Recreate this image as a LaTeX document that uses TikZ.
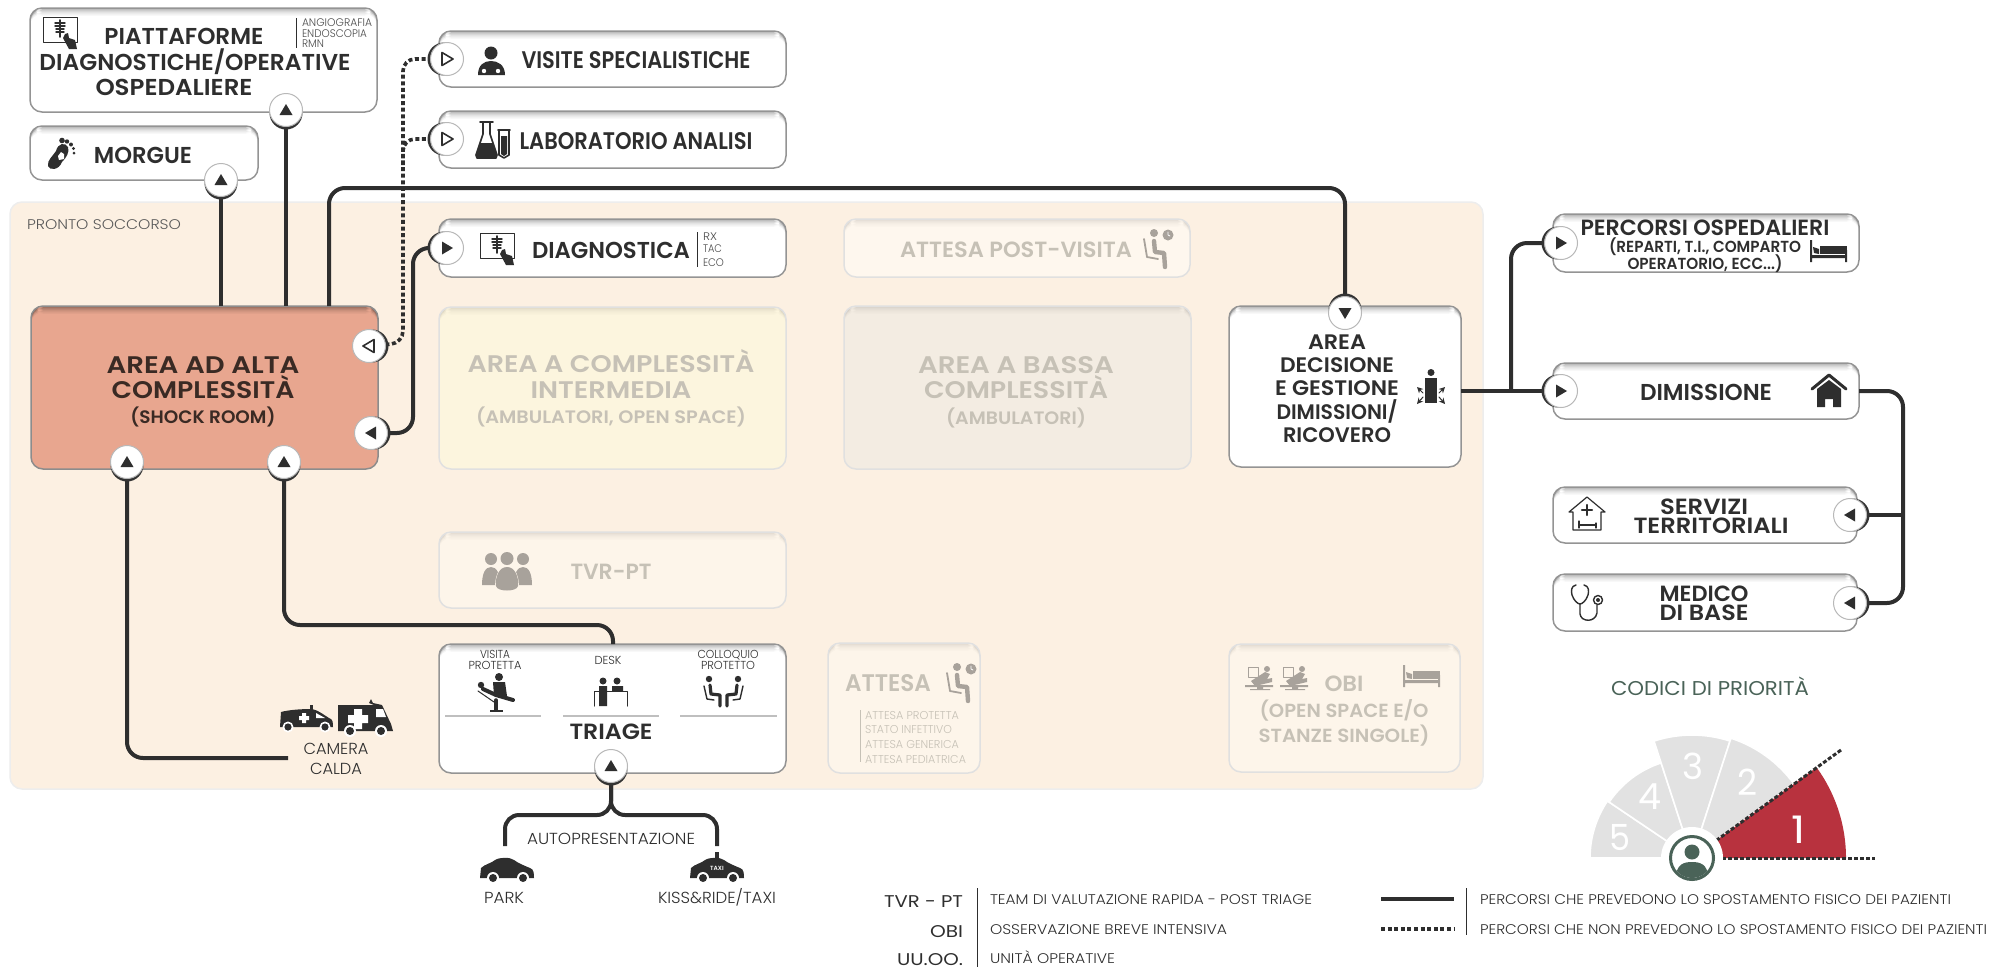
\documentclass[tikz,border=0pt]{standalone}
\usepackage{fontspec}
\usepackage{graphicx}
\usetikzlibrary{arrows.meta,calc}
\setmainfont{Poppins}
\newfontfamily\fbold{Poppins SemiBold}
\newfontfamily\flight{Poppins Light}
\newfontfamily\fmed{Poppins}
\definecolor{ink}{HTML}{2E2E2E}
\definecolor{dimtxt}{HTML}{C6C1B6}
\definecolor{dimico}{HTML}{A8A29B}
\definecolor{psbg}{HTML}{FCF0E2}
\definecolor{greenc}{HTML}{4A6358}
\definecolor{redc}{HTML}{B8323E}
\definecolor{greyc}{HTML}{E2E2E2}
\definecolor{altaf}{HTML}{E8A68F}
\definecolor{altat}{HTML}{3A2A24}
\definecolor{attpvf}{HTML}{FEF7EE}
\definecolor{interf}{HTML}{FCF5DE}
\definecolor{bassaf}{HTML}{F3ECE2}
\definecolor{dimf}{HTML}{FDF5EA}
\newdimen\pxu \pxu=0.5pt
\newcount\tcnt
\pgfdeclarelayer{bg}\pgfdeclarelayer{conn}\pgfsetlayers{bg,conn,main}
% generic text: font, anchor, colour, size(pt), x, y, width(px), text
\newcommand\txt[8]{\global\advance\tcnt by 1
  \node[inner sep=0pt,outer sep=0pt,anchor=#2,text=#3,yshift={-0.35*#4 pt},font={#1\fontsize{#4}{#4}\selectfont}] (t\the\tcnt) at (#5,#6) {\resizebox{#7\pxu}{\height}{#8}};}
\newcommand\tB[6][ink]{\txt{\fbold}{base}{#1}{#2}{#3}{#4}{#5}{#6}}
\newcommand\tL[6][ink]{\txt{\flight}{base}{#1}{#2}{#3}{#4}{#5}{#6}}
\newcommand\tM[6][ink]{\txt{\fmed}{base}{#1}{#2}{#3}{#4}{#5}{#6}}
\newcommand\tW[6][ink]{\txt{\flight}{base west}{#1}{#2}{#3}{#4}{#5}{#6}}
\newcommand\tE[6][ink]{\txt{\fmed}{base east}{#1}{#2}{#3}{#4}{#5}{#6}}
% box: name x1 y1 x2 y2 fill border shadow-strength
\newcommand\bx[8]{\begin{pgfonlayer}{bg}
  \node[draw=#7,fill=#6,line width=.75pt,rounded corners=6pt,inner sep=0pt,outer sep=0pt,
    minimum width={(#4-#2)*0.5pt},minimum height={(#5-#3)*0.5pt},
    path picture={\foreach \i/\o in {0/.30,1/.20,2/.13,3/.08,4/.04}{\fill[black,fill opacity={#8*\o}] ($(path picture bounding box.north west)+(0,{\i*1.5})$) rectangle ($(path picture bounding box.north east)+(0,{\i*1.5+1.5})$);}}]
    (#1) at ({(#2+#4)/2},{(#3+#5)/2}) {};
  \end{pgfonlayer}}
\newcommand\wbx[5]{\bx{#1}{#2}{#3}{#4}{#5}{white}{black!42}{1}}
\newcommand\dbx[6]{\bx{#1}{#2}{#3}{#4}{#5}{#6}{black!12}{.35}}
% arrow circle: name x y rotation trianglestyle
\newcommand\arrc[5]{\begin{scope}[shift={(#2,#3)},rotate=#4]\fill[black!80] (0,3) circle[radius=16.5];\end{scope}
  \node[circle,fill=white,draw=black!28,line width=.5pt,minimum size=16.5pt,inner sep=0pt,outer sep=0pt] (#1) at (#2,#3) {};
  \begin{scope}[shift={(#2,#3)},rotate=#4]\path[#5] (0,-6) -- (6.5,5) -- (-6.5,5) -- cycle;\end{scope}}
\tikzset{solidt/.style={fill=ink},opent/.style={draw=ink,fill=white,line width=.8pt,line join=round},
 sconn/.style={draw=ink,line width=2pt,rounded corners=8pt},
 dconn/.style={draw=ink,line width=1.8pt,dash pattern=on 2pt off 1.3pt,rounded corners=6pt},
 ic/.style n args={4}{shift={(#1,#2)},scale=#3,fill=#4,draw=#4,line width=.5pt,line cap=round,line join=round}}
% icons
\newcommand\icXray[4]{\begin{scope}[ic={#1}{#2}{#3}{#4}]
 \draw[line width=.5pt] (0,0) rectangle (34,25);
 \draw[line width=.9pt] (17,3)--(17,20);\draw[line width=.7pt] (12,6)--(22,6) (12,9)--(22,9) (13,12)--(21,12) (13,15)--(21,15);
 \fill (22,17) -- (25,16) -- (26,21) -- (32,23) -- (34,32) -- (26,32) -- (20,21) -- cycle;\end{scope}}
\newcommand\icFoot[4]{\begin{scope}[ic={#1}{#2}{#3}{#4}]
 \fill (1,28) .. controls (0,22) and (6,18) .. (9,13) .. controls (11,5) and (18,4) .. (21,9) .. controls (23,14) and (19,20) .. (15,24) .. controls (12,32) and (3,33) .. (1,28) -- cycle;
 \fill (15,2.5) circle[radius=2.8] (20,3.5) circle[radius=2.2] (24,6.5) circle[radius=2] (26.5,10.5) circle[radius=1.7] (27,15) circle[radius=1.5];
 \fill[white] (11,18)--(14,14)--(17,16)--(17,21)--(12,22)--cycle;\end{scope}}
\newcommand\icDoc[4]{\begin{scope}[ic={#1}{#2}{#3}{#4}]
 \fill (13,7) circle[radius=6.5];
 \fill (0,29) .. controls (0,19) and (6,15) .. (13,15) .. controls (20,15) and (27,19) .. (27,29) -- cycle;
 \fill[white] (6,25) circle[radius=2.2] (20,25) circle[radius=2.2];\end{scope}}
\newcommand\icLab[4]{\begin{scope}[ic={#1}{#2}{#3}{#4}]
 \draw[line width=.8pt] (5,0)--(18,0) (8,0)--(8,12)--(1,33)--(2,36)--(21,36)--(22,33)--(15,12)--(15,0);
 \fill (5,21)--(18,21)--(22,33)--(21,36)--(2,36)--(1,33)--cycle;
 \draw[line width=.8pt] (24,8)--(24,33)--(29,36)--(34,33)--(34,8) (23,8)--(35,8);
 \fill (26,14)--(32,14)--(32,32)--(29,34)--(26,32)--cycle;\end{scope}}
\newcommand\icWait[4]{\begin{scope}[ic={#1}{#2}{#3}{#4}]
 \fill (13,4) circle[radius=4];
 \draw[line width=2.2pt] (13,12)--(14,23)--(23,24)--(24,38);
 \draw[line width=.9pt] (3,10)--(6,28)--(17,30);
 \fill (27,6) circle[radius=5.5];\draw[white,line width=.4pt] (27,3)--(27,6)--(29,7);\end{scope}}
\newcommand\icPeople[4]{\begin{scope}[ic={#1}{#2}{#3}{#4}]
 \fill (9,7) circle[radius=6] (41,7) circle[radius=6] (25,6.5) circle[radius=6.5];
 \fill (0,33) .. controls (0,22) and (3,15) .. (9,15) .. controls (15,15) and (18,22) .. (18,33) -- cycle;
 \fill (32,33) .. controls (32,22) and (35,15) .. (41,15) .. controls (47,15) and (50,22) .. (50,33) -- cycle;
 \draw[dimf,line width=.8pt] (14,39) .. controls (13,25) and (17,15) .. (25,15) .. controls (33,15) and (37,25) .. (36,39);
 \fill (14,34) .. controls (13,25) and (17,15) .. (25,15) .. controls (33,15) and (37,25) .. (36,34) .. controls (35,40) and (15,40) .. (14,34) -- cycle;\end{scope}}
\newcommand\icCar[4]{\begin{scope}[ic={#1}{#2}{#3}{#4}]
 \fill (0,21) -- (1,11) .. controls (5,7) and (12,6) .. (15,3) .. controls (20,0) and (30,0) .. (34,3) .. controls (38,6) and (45,9) .. (50,11) .. controls (54,12) and (54,17) .. (54,21) -- cycle;
 \fill[white] (13,21) circle[radius=6] (43,21) circle[radius=6];
 \fill (13,21) circle[radius=4] (43,21) circle[radius=4];\end{scope}}
\newcommand\icAmbS[4]{\begin{scope}[ic={#1}{#2}{#3}{#4}]
 \fill (0,24) -- (1,9) .. controls (8,7) and (20,6) .. (32,6) .. controls (38,7) and (44,12) .. (49,15) .. controls (53,16) and (53,20) .. (53,24) -- cycle;
 \fill (30,2) rectangle (33,6);
 \fill[white] (36,10)--(45,15)--(36,15)--cycle;
 \fill[white] (22,10) rectangle (26,20) (19,13) rectangle (29,17);
 \fill[white] (8,24) circle[radius=5.5] (45,24) circle[radius=5.5];
 \fill (8,24) circle[radius=3.6] (45,24) circle[radius=3.6];\end{scope}}
\newcommand\icAmbB[4]{\begin{scope}[ic={#1}{#2}{#3}{#4}]
 \fill (0,7) -- (36,7) -- (31,5) -- (33,1) -- (35,5) -- (44,7) -- (53,26) -- (55,33) -- (0,33) -- cycle;
 \fill[white] (38,11)--(45,11)--(48,19)--(38,19)--cycle;
 \fill[white] (16,11) rectangle (24,31) (10,17) rectangle (30,25);
 \fill[white] (12,33) circle[radius=6] (43,33) circle[radius=6];
 \fill (12,33) circle[radius=4] (43,33) circle[radius=4];\end{scope}}
\newcommand\icVisit[4]{\begin{scope}[ic={#1}{#2}{#3}{#4}]
 \fill (23,5) circle[radius=4];
 \fill (17,10)--(29,10)--(31,24)--(18,24)--cycle;
 \fill (5,13) circle[radius=3.2];
 \draw[line width=2pt] (7,17)--(20,23)--(37,28);
 \draw[line width=.5pt] (2,19)--(18,30);
 \draw[line width=1.8pt] (20,28)--(20,38);\fill (14,38) rectangle (27,40);\end{scope}}
\newcommand\icDesk[4]{\begin{scope}[ic={#1}{#2}{#3}{#4}]
 \fill (9,4) circle[radius=3.5] (23,4) circle[radius=3.5];
 \fill (5,9) rectangle (13,29) (18,9) rectangle (29,14);
 \draw[line width=.5pt] (0,29)--(0,14)--(33,14)--(33,29);\end{scope}}
\newcommand\icTalk[4]{\begin{scope}[ic={#1}{#2}{#3}{#4}]
 \fill (6,3) circle[radius=3.2] (35,3) circle[radius=3.2];
 \draw[line width=1.6pt] (7,9)--(8,18)--(17,19)--(17,30) (34,9)--(33,18)--(24,19)--(24,30);
 \draw[line width=.7pt] (1,10)--(4,23)--(11,24) (40,10)--(37,23)--(30,24);\end{scope}}
\newcommand\icBed[4]{\begin{scope}[ic={#1}{#2}{#3}{#4}]
 \fill (0,0) rectangle (2,22) (35,10) rectangle (37,22) (0,15) rectangle (37,18);
 \fill (10,6) rectangle (37,14);\fill (3,7) -- (9,9) -- (9,14) -- (4,13) -- cycle;\end{scope}}
\newcommand\icHouse[4]{\begin{scope}[ic={#1}{#2}{#3}{#4}]
 \draw[line width=1.5pt] (1,15)--(18,1)--(35,15);
 \fill (6,15)--(18,6)--(30,15)--(30,33)--(22,33)--(22,25)--(14,25)--(14,33)--(6,33)--cycle;\end{scope}}
\newcommand\icServ[4]{\begin{scope}[ic={#1}{#2}{#3}{#4}]
 \draw[line width=.6pt] (0,15)--(18,0)--(36,15)--(32,15)--(32,33)--(4,33)--(4,15)--cycle;
 \draw[line width=1.2pt] (18,8)--(18,18) (13,13)--(23,13);
 \draw[line width=.6pt] (10,24)--(10,31) (10,28)--(27,28) (27,26)--(27,31);\end{scope}}
\newcommand\icSteth[4]{\begin{scope}[ic={#1}{#2}{#3}{#4}]
 \draw[line width=.7pt] (5,0) .. controls (0,1) and (0,6) .. (1,10) .. controls (3,16) and (7,19) .. (9,19) .. controls (11,19) and (15,16) .. (17,10) .. controls (18,6) and (18,1) .. (13,0);
 \draw[line width=.7pt] (9,19)--(9,29) .. controls (10,37) and (24,38) .. (26,28)--(26,20);
 \draw[line width=.7pt] (27,15) circle[radius=4.5];\fill (27,15) circle[radius=2];\end{scope}}
\newcommand\icDec[4]{\begin{scope}[ic={#1}{#2}{#3}{#4}]
 \fill (15,3.5) circle[radius=3.5];
 \fill (9,9) rectangle (21,34);
 \draw[line width=.5pt,-{Stealth[length=3pt,width=3pt]}] (7,24)--(1,18);
 \draw[line width=.5pt,-{Stealth[length=3pt,width=3pt]}] (23,24)--(29,18);
 \draw[line width=.5pt,-{Stealth[length=3pt,width=3pt]}] (7,28)--(1,35);
 \draw[line width=.5pt,-{Stealth[length=3pt,width=3pt]}] (23,28)--(29,35);\end{scope}}
\newcommand\icPatient[4]{\begin{scope}[ic={#1}{#2}{#3}{#4}]
 \draw[line width=.3pt] (3,0) rectangle (13,10);
 \fill (22,2) circle[radius=3];
 \fill (6,14)--(20,5)--(25,7)--(22,12)--(27,11)--(27,15)--(10,19)--cycle;
 \fill (0,18) rectangle (28,20) (12,20) rectangle (18,22) (5,22) rectangle (25,23);\end{scope}}
\begin{document}
\begin{tikzpicture}[x=0.5pt,y=-0.5pt]
\useasboundingbox (0,0) rectangle (1991,970);
% background
\begin{pgfonlayer}{bg}
\node[draw=black!7,fill=psbg,line width=.75pt,rounded corners=6pt,inner sep=0pt,outer sep=0pt,minimum width=736.5pt,minimum height=293.5pt] (ps) at ({(10+1483)/2},{(202+789)/2}) {};
\end{pgfonlayer}
\tW[black!65]{7}{27}{225}{154}{PRONTO SOCCORSO}
% boxes
\wbx{piatt}{30}{8}{377}{112}
\wbx{morgue}{30}{126}{258}{180}
\wbx{visite}{439}{31}{786}{87}
\wbx{lab}{439}{111}{786}{168}
\wbx{diag}{439}{219}{786}{277}
\wbx{triage}{439}{644}{786}{773}
\wbx{decis}{1229}{306}{1461}{467}
\wbx{percorsi}{1553}{214}{1859}{272}
\wbx{dimiss}{1553}{363}{1859}{419}
\wbx{serv}{1553}{487}{1857}{543}
\wbx{medico}{1553}{574}{1857}{631}
\bx{alta}{31}{306}{378}{469}{altaf}{black!45}{1.2}
\dbx{attpv}{844}{219}{1190}{277}{attpvf}
\dbx{inter}{439}{307}{786}{469}{interf}
\dbx{bassa}{844}{306}{1191}{469}{bassaf}
\dbx{tvr}{439}{532}{786}{608}{dimf}
\dbx{attesa}{828}{643}{980}{773}{dimf}
\dbx{obi}{1229}{644}{1460}{772}{dimf}
% arrow circles
\arrc{cPiatt}{286}{110}{0}{solidt}
\arrc{cMorgue}{221}{180}{0}{solidt}
\arrc{cVis}{447}{59}{-90}{opent}
\arrc{cLab}{447}{139}{-90}{opent}
\arrc{cDiag}{447}{248}{-90}{solidt}
\arrc{cAltaO}{369}{346}{90}{opent}
\arrc{cAltaS}{371}{433}{90}{solidt}
\arrc{cAltaB}{127}{462}{0}{solidt}
\arrc{cAltaT}{284}{462}{0}{solidt}
\arrc{cDec}{1345}{313}{180}{solidt}
\arrc{cTri}{611}{766}{0}{solidt}
\arrc{cPerc}{1561}{243}{-90}{solidt}
\arrc{cDim}{1561}{391}{-90}{solidt}
\arrc{cServ}{1850}{515}{90}{solidt}
\arrc{cMed}{1850}{603}{90}{solidt}
% junctions
\coordinate (jLong1) at (329,188);\coordinate (jLong2) at (1345,188);
\coordinate (jDot1) at (403,343);\coordinate (jDot2) at (403,59);\coordinate (jDot3) at (403,139);\coordinate (jDot4) at (403,165);
\coordinate (jD1) at (413,433);\coordinate (jD2) at (413,248);
\coordinate (jT1) at (613,625);\coordinate (jT2) at (284,625);
\coordinate (jC1) at (127,758);\coordinate (jCam) at (288,758);
\coordinate (jF) at (611,815);\coordinate (jFL) at (505,815);\coordinate (jFR) at (717,815);
\coordinate (jPark) at (505,846);\coordinate (jTaxi) at (717,846);
\coordinate (jP1) at (1511,391);\coordinate (jP2) at (1511,243);
\coordinate (jR1) at (1903,391);\coordinate (jR2) at (1903,603);\coordinate (jR3) at (1903,515);
\begin{pgfonlayer}{conn}
\draw[sconn] (cMorgue) -- (cMorgue |- alta.north);
\draw[sconn] (cPiatt) -- (cPiatt |- alta.north);
\draw[sconn] (jLong1 |- alta.north) -- (jLong1) -- (jLong2) -- (cDec);
\draw[dconn] (cAltaO) -- (jDot1) -- (jDot2) -- (cVis);
\draw[dconn] (jDot4) -- (jDot3) -- (cLab);
\draw[sconn] (cAltaS) -- (jD1) -- (jD2) -- (cDiag);
\draw[sconn] (jT1 |- triage.north) -- (jT1) -- (jT2) -- (cAltaT);
\draw[sconn] (jCam) -- (jC1) -- (cAltaB);
\draw[sconn,rounded corners=7pt] (cTri) -- (jF) -- (jFL) -- (jPark);
\draw[sconn,rounded corners=7pt] (cTri) -- (jF) -- (jFR) -- (jTaxi);
\draw[sconn] (decis.east |- jP1) -- (cDim);
\draw[sconn] (jP1) -- (jP2) -- (cPerc);
\draw[sconn] (dimiss.east |- jR1) -- (jR1) -- (jR2) -- (cMed);
\draw[sconn] (jR3) -- (cServ);
\end{pgfonlayer}
% box texts
\tB{11.5}{184}{36}{159}{PIATTAFORME}
\tB{11.5}{195}{62}{311}{DIAGNOSTICHE/OPERATIVE}
\tB{11.5}{174}{87}{157}{OSPEDALIERE}
\draw[ink,line width=.4pt] (296,18)--(296,48);
\tW[black!70]{5.5}{302}{23}{70}{ANGIOGRAFIA}
\tW[black!70]{5.5}{302}{34}{65}{ENDOSCOPIA}
\tW[black!70]{5.5}{302}{44}{22}{RMN}
\icXray{43}{17}{1}{ink}
\icFoot{47}{138}{1}{ink}
\tB{11.5}{143}{155}{98}{MORGUE}
\icDoc{478}{46}{1}{ink}
\tB{12}{636}{60}{229}{VISITE SPECIALISTICHE}
\icLab{475}{122}{1}{ink}
\tB{12}{636}{141}{233}{LABORATORIO ANALISI}
\icXray{480}{233}{1}{ink}
\tB{11.5}{611}{250}{158}{DIAGNOSTICA}
\draw[ink,line width=.4pt] (697,232)--(697,267);
\tW[black!70]{5.5}{703}{237}{14}{RX}
\tW[black!70]{5.5}{703}{249}{19}{TAC}
\tW[black!70]{5.5}{703}{263}{21}{ECO}
\tB[altat]{12}{203}{365}{193}{AREA AD ALTA}
\tB[altat]{12}{203}{390}{183}{COMPLESSITÀ}
\tB[altat]{9}{203}{417}{145}{(SHOCK ROOM)}
\tB[dimtxt]{12}{611}{364}{287}{AREA A COMPLESSITÀ}
\tB[dimtxt]{12}{611}{390}{161}{INTERMEDIA}
\tB[dimtxt]{9}{611}{417}{270}{(AMBULATORI, OPEN SPACE)}
\tB[dimtxt]{11}{1016}{250}{232}{ATTESA POST-VISITA}
\icWait{1141}{229}{1}{dimico}
\tB[dimtxt]{12}{1016}{365}{196}{AREA A BASSA}
\tB[dimtxt]{12}{1016}{390}{184}{COMPLESSITÀ}
\tB[dimtxt]{9}{1016}{418}{140}{(AMBULATORI)}
\tB{10.5}{1337}{342}{58}{AREA}
\tB{10.5}{1337}{365}{114}{DECISIONE}
\tB{10.5}{1337}{388}{124}{E GESTIONE}
\tB{10.5}{1337}{412}{121}{DIMISSIONI/}
\tB{10.5}{1337}{435}{108}{RICOVERO}
\icDec{1416}{369}{1}{ink}
\icPeople{482}{552}{1}{dimico}
\tB[dimtxt]{11}{611}{572}{81}{TVR-PT}
% triage
\tL{5.8}{495}{654}{30}{VISITA}
\tL{5.8}{495}{665}{53}{PROTETTA}
\tL{5.8}{608}{660}{27}{DESK}
\tL{5.8}{728}{654}{61}{COLLOQUIO}
\tL{5.8}{728}{665}{54}{PROTETTO}
\icVisit{476}{672}{1}{ink}
\icDesk{594}{677}{1}{ink}
\icTalk{703}{676}{1}{ink}
\draw[black!25,line width=.6pt] (445,716)--(541,716) (563,716)--(659,716) (680,716)--(777,716);
\tB{11}{611}{732}{83}{TRIAGE}
% attesa
\tB[dimtxt]{12}{888}{683}{86}{ATTESA}
\icWait{944}{663}{1}{dimico}
\draw[dimtxt,line width=.4pt] (860,710)--(860,762);
\tW[dimtxt]{5.7}{865}{715}{94}{ATTESA PROTETTA}
\tW[dimtxt]{5.7}{865}{729}{87}{STATO INFETTIVO}
\tW[dimtxt]{5.7}{865}{744}{94}{ATTESA GENERICA}
\tW[dimtxt]{5.7}{865}{759}{101}{ATTESA PEDIATRICA}
% obi
\icPatient{1245}{667}{1}{dimico}
\icPatient{1280}{667}{1}{dimico}
\tB[dimtxt]{11}{1344}{684}{39}{OBI}
\icBed{1403}{665}{1}{dimico}
\tB[dimtxt]{9.5}{1344}{711}{169}{(OPEN SPACE E/O}
\tB[dimtxt]{9.5}{1344}{736}{171}{STANZE SINGOLE)}
% right boxes
\tB{11}{1705}{228}{249}{PERCORSI OSPEDALIERI}
\tB{8}{1705}{247}{192}{(REPARTI, T.I., COMPARTO}
\tB{8}{1705}{264}{155}{OPERATORIO, ECC...)}
\icBed{1810}{240}{1}{ink}
\tB{11.5}{1706}{392}{132}{DIMISSIONE}
\icHouse{1811}{374}{1}{ink}
\tB{11}{1704}{507}{88}{SERVIZI}
\tB{11}{1711}{526}{155}{TERRITORIALI}
\icServ{1569}{497}{1}{ink}
\tB{11}{1704}{594}{89}{MEDICO}
\tB{11}{1704}{613}{89}{DI BASE}
\icSteth{1571}{585}{1}{ink}
% camera calda, cars
\icAmbS{280}{703}{1}{ink}
\icAmbB{338}{698}{1}{ink}
\tL{8}{336}{749}{65}{CAMERA}
\tL{8}{336}{769}{52}{CALDA}
\tL{8}{611}{839}{168}{AUTOPRESENTAZIONE}
\icCar{480}{857}{1}{ink}
\icCar{690}{857}{1}{ink}
\fill[ink] (715,852) rectangle (719,858);
\node[text=white,font={\fbold\fontsize{3}{3}\selectfont},inner sep=0pt] (tTaxi) at (717,868) {TAXI};
\tL{8}{504}{898}{40}{PARK}
\tL{8}{717}{898}{118}{KISS\&RIDE/TAXI}
% priority
\tM[greenc]{10}{1710}{688}{198}{CODICI DI PRIORITÀ}
\coordinate (fan) at (1692,858);
\fill[greyc,draw=white,line width=.8pt] (fan) -- ++(180:51pt) arc[start angle=180,end angle=146,radius=51pt] -- cycle;
\fill[greyc,draw=white,line width=.8pt] (fan) -- ++(146:50pt) arc[start angle=146,end angle=108,radius=50pt] -- cycle;
\fill[greyc,draw=white,line width=.8pt] (fan) -- ++(108:61.5pt) arc[start angle=108,end angle=72,radius=61.5pt] -- cycle;
\fill[greyc,draw=white,line width=.8pt] (fan) -- ++(72:63pt) arc[start angle=72,end angle=36,radius=63pt] -- cycle;
\fill[redc] (fan) -- ++(0:77pt) arc[start angle=0,end angle=36,radius=77pt] -- cycle;
\coordinate (fanA) at (1841,750);\coordinate (fanB) at (1875,858);
\draw[ink,line width=1.5pt,dash pattern=on 2pt off 1pt] (fan) -- (fanA);
\draw[ink,line width=1.5pt,dash pattern=on 2pt off 1pt] (fan) -- (fanB);
\tM[white]{19}{1798}{830}{14}{1}
\tM[white]{18}{1747}{783}{20}{2}
\tM[white]{18}{1693}{767}{21}{3}
\tM[white]{18}{1650}{797}{23}{4}
\tM[white]{18}{1620}{838}{21}{5}
\fill[white] (fan) circle[radius=31];
\begin{scope}
\clip (fan) circle[radius=20];
\fill[greenc] ($(fan)+(0,-6)$) circle[radius=7.5];
\fill[greenc] ($(fan)+(-16,20)$) .. controls ($(fan)+(-16,6)$) and ($(fan)+(-8,4)$) .. ($(fan)+(0,4)$) .. controls ($(fan)+(8,4)$) and ($(fan)+(16,6)$) .. ($(fan)+(16,20)$) -- cycle;
\end{scope}
\draw[greenc,line width=1.5pt] (fan) circle[radius=21.5];
% legend
\tE{8.5}{963}{902}{79}{TVR - PT}
\tE{8.5}{963}{932}{33}{OBI}
\tE{8.5}{963}{960}{66}{UU.OO.}
\draw[ink,line width=.4pt] (977,888)--(977,967);
\tW{7}{990}{900}{322}{TEAM DI VALUTAZIONE RAPIDA - POST TRIAGE}
\tW{7}{990}{930}{237}{OSSERVAZIONE BREVE INTENSIVA}
\tW{7}{990}{959}{125}{UNITÀ OPERATIVE}
\coordinate (lgA) at (1381,899);\coordinate (lgB) at (1454,899);\coordinate (lgC) at (1381,929);\coordinate (lgD) at (1454,929);
\draw[ink,line width=2.2pt] (lgA)--(lgB);
\draw[ink,line width=2.2pt,dash pattern=on 2pt off 1.3pt] (lgC)--(lgD);
\draw[ink,line width=.4pt] (1466,888)--(1466,935);
\tW{7}{1480}{900}{471}{PERCORSI CHE PREVEDONO LO SPOSTAMENTO FISICO DEI PAZIENTI}
\tW{7}{1480}{930}{507}{PERCORSI CHE NON PREVEDONO LO SPOSTAMENTO FISICO DEI PAZIENTI}
\end{tikzpicture}
\end{document}
